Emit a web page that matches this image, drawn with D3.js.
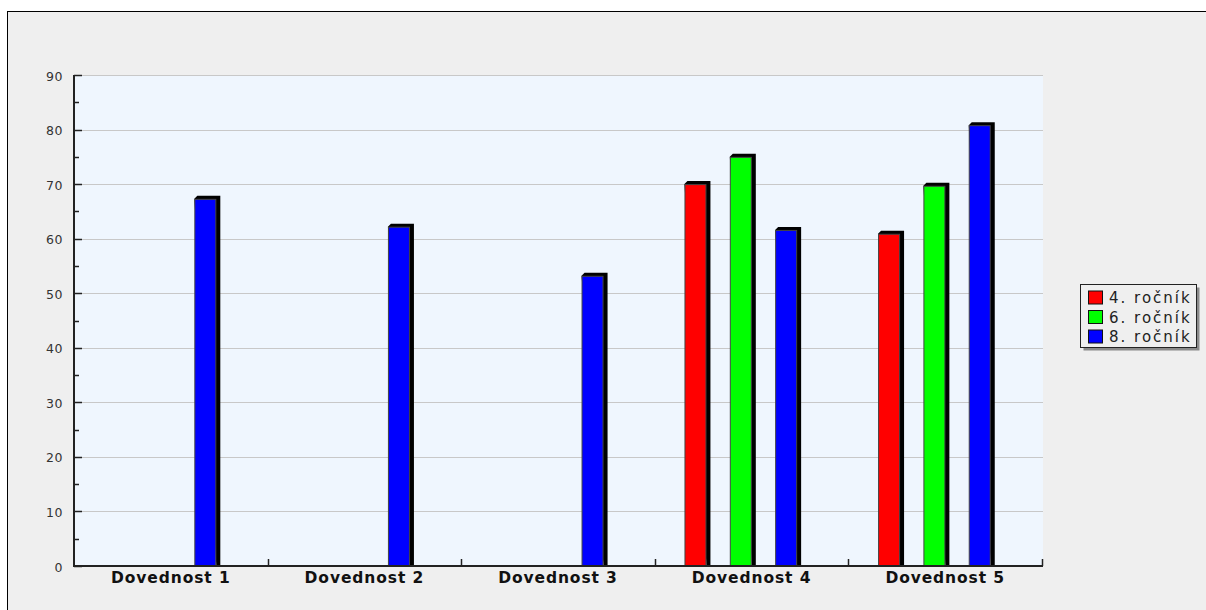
<!DOCTYPE html>
<html>
<head>
<meta charset="utf-8">
<script src="https://cdn.jsdelivr.net/npm/d3@7/dist/d3.min.js"></script>
<style>
html,body{margin:0;padding:0;background:#fff;}
svg{display:block;}
</style>
</head>
<body>
<svg id="chart" width="1206" height="610"></svg>
<script>
const categories = ["Dovednost 1","Dovednost 2","Dovednost 3","Dovednost 4","Dovednost 5"];
const series = ["4. ročník","6. ročník","8. ročník"];
const values4 = [null,null,null,70,60.9];
const values6 = [null,null,null,75,69.7];
const values8 = [67.3,62.2,53.2,61.6,80.8];
const seriesValues = [values4, values6, values8];
const colors = ["#ff0000","#00ff00","#0000ff"];
const yTicks = [0,10,20,30,40,50,60,70,80,90];
const yMinorTicks = [5,15,25,35,45,55,65,75,85];

const svg = d3.select("#chart");
const plot = {left:74, right:1042, top:75, bottom:566};

// panel
svg.append("rect").attr("x",7.5).attr("y",11.5).attr("width",1300).attr("height",700)
  .attr("fill","#efefef").attr("stroke","#000").attr("stroke-width",1);

const y = d3.scaleLinear().domain([0,90]).range([plot.bottom, plot.top]);
const x0 = d3.scaleBand().domain(categories).range([plot.left, plot.right]).padding(0);
const x1 = d3.scaleBand().domain(series).range([18, 154]).padding(0);
const barW = 22;

// plot background
svg.append("rect").attr("x",plot.left).attr("y",plot.top)
  .attr("width",plot.right-plot.left+1).attr("height",plot.bottom-plot.top)
  .attr("fill","#eff6fe");

// grid
svg.append("g").selectAll("line").data(yTicks.filter(d=>d>0)).join("line")
  .attr("x1",plot.left).attr("x2",plot.right+1)
  .attr("y1",d=>Math.round(y(d))+0.5).attr("y2",d=>Math.round(y(d))+0.5)
  .attr("stroke","#c8c8c8").attr("stroke-width",1);

// bars
const barData = [];
categories.forEach((c,ci)=>{
  series.forEach((s,si)=>{
    const v = seriesValues[si][ci];
    if (v!=null) barData.push({c,s,v,color:colors[si]});
  });
});
const bars = svg.append("g").selectAll("g").data(barData).join("g");
bars.append("polygon")
  .attr("points", d=>{
    const bx = x0(d.c)+x1(d.s)+(x1.bandwidth()-barW)/2;
    const top = y(d.v), bot = y(0);
    return [[bx,top],[bx+3,top-3],[bx+barW+4,top-3],[bx+barW+4,bot],[bx+barW,bot]].map(p=>p.join(",")).join(" ");
  })
  .attr("fill","#000");
bars.append("rect")
  .attr("x", d=>x0(d.c)+x1(d.s)+(x1.bandwidth()-barW)/2+0.5)
  .attr("y", d=>y(d.v)+0.5)
  .attr("width", barW-1)
  .attr("height", d=>y(0)-y(d.v)-0.5)
  .attr("fill", d=>d.color)
  .attr("stroke","#444").attr("stroke-width",1);

// y axis
const yAxis = svg.append("g");
yAxis.append("line").attr("x1",plot.left).attr("x2",plot.left)
  .attr("y1",plot.top).attr("y2",plot.bottom+1).attr("stroke","#222").attr("stroke-width",2);
yAxis.selectAll("line.maj").data(yTicks).join("line").attr("class","maj")
  .attr("x1",plot.left).attr("x2",plot.left+8)
  .attr("y1",d=>Math.round(y(d))+0.5).attr("y2",d=>Math.round(y(d))+0.5)
  .attr("stroke","#222").attr("stroke-width",1.5);
yAxis.selectAll("line.min").data(yMinorTicks).join("line").attr("class","min")
  .attr("x1",plot.left).attr("x2",plot.left+5)
  .attr("y1",d=>Math.round(y(d))+0.5).attr("y2",d=>Math.round(y(d))+0.5)
  .attr("stroke","#222").attr("stroke-width",1.5);
yAxis.selectAll("text").data(yTicks).join("text")
  .attr("x",63).attr("y",d=>y(d)+5.5)
  .attr("text-anchor","end")
  .attr("font-family","DejaVu Sans, Verdana, sans-serif")
  .attr("font-size",12.5).attr("letter-spacing",0.6)
  .attr("fill","#333")
  .text(d=>d);

// x axis
const xAxis = svg.append("g");
xAxis.append("line").attr("x1",plot.left-1).attr("x2",plot.right+1)
  .attr("y1",plot.bottom).attr("y2",plot.bottom).attr("stroke","#222").attr("stroke-width",2);
const bounds = categories.slice(1).map(c=>x0(c)).concat([plot.right]);
xAxis.selectAll("line.t").data(bounds).join("line").attr("class","t")
  .attr("x1",d=>Math.round(d)+0.5).attr("x2",d=>Math.round(d)+0.5)
  .attr("y1",plot.bottom).attr("y2",plot.bottom-7)
  .attr("stroke","#222").attr("stroke-width",1.5);
xAxis.selectAll("text").data(categories).join("text")
  .attr("x",d=>x0(d)+x0.bandwidth()/2).attr("y",583)
  .attr("text-anchor","middle")
  .attr("font-family","DejaVu Sans, Verdana, sans-serif")
  .attr("font-weight","bold")
  .attr("font-size",15.5).attr("letter-spacing",0.9)
  .attr("fill","#111")
  .text(d=>d);

// legend
const lg = svg.append("g");
lg.append("rect").attr("x",1083.5).attr("y",287.5).attr("width",116).attr("height",63)
  .attr("fill","#8a8a8a");
lg.append("rect").attr("x",1080.5).attr("y",284.5).attr("width",116).attr("height",63)
  .attr("fill","#efefef").attr("stroke","#222").attr("stroke-width",1);
const rows = lg.selectAll("g").data(series).join("g")
  .attr("transform",(d,i)=>`translate(0,${297.5+i*19.5})`);
rows.append("rect").attr("x",1088.5).attr("y",-6.5).attr("width",14).attr("height",13)
  .attr("fill",(d,i)=>colors[i]).attr("stroke","#111").attr("stroke-width",1);
rows.append("text").attr("x",1109).attr("y",5.5)
  .attr("font-family","DejaVu Sans, Verdana, sans-serif")
  .attr("font-size",15).attr("letter-spacing",2)
  .attr("fill","#222")
  .text(d=>d);
</script>
</body>
</html>
